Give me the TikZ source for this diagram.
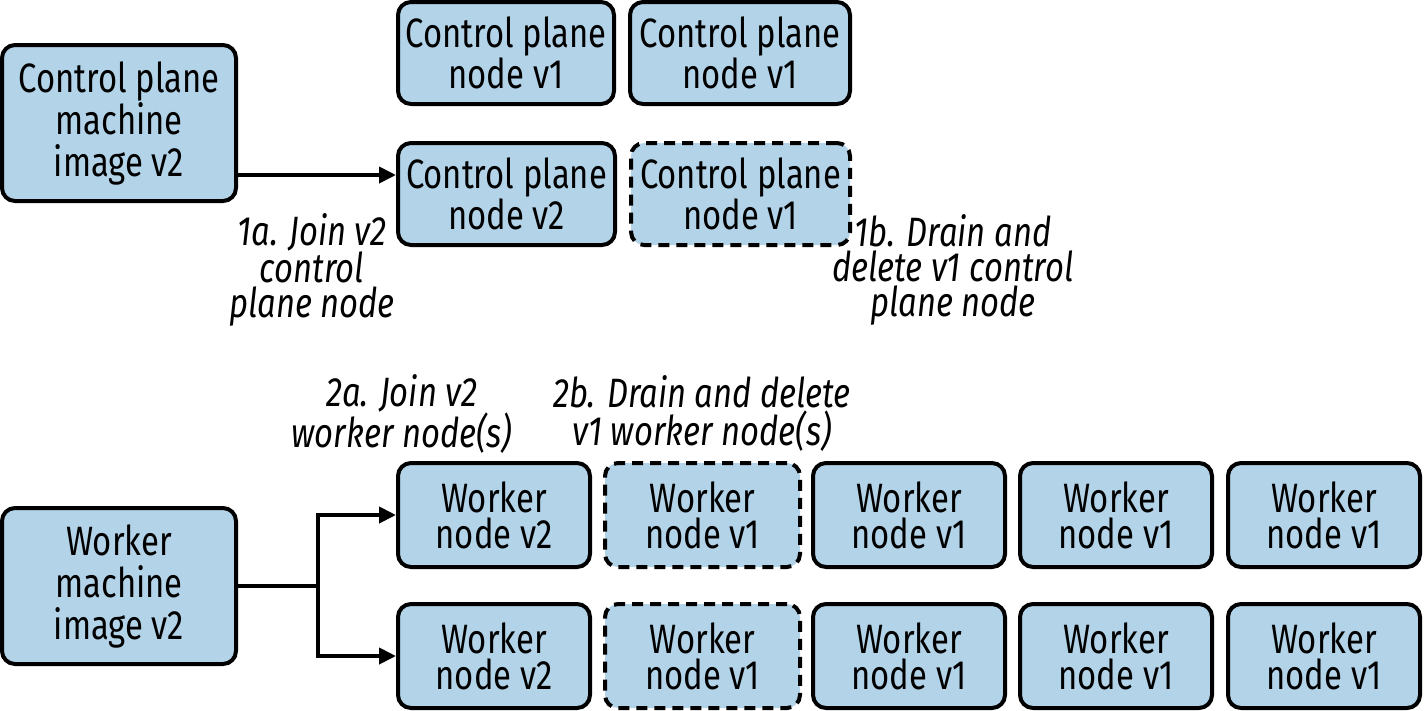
\documentclass[tikz,border=0pt]{standalone}
\usepackage{fontspec}
\setmainfont{Fira Sans}[FakeStretch=0.8]
\usetikzlibrary{arrows.meta}
\definecolor{boxblue}{RGB}{178,211,232}
\tikzset{
  box/.style={draw=black, line width=4pt, fill=boxblue, rounded corners=13pt, align=center, inner sep=0pt,
    font=\fontsize{41}{36}\selectfont},
  bigbox/.style={box, font=\fontsize{41}{42}\selectfont},
  dbox/.style={box, dash pattern=on 11pt off 7pt},
  arr/.style={line width=4pt, -{Triangle[length=17pt,width=16pt]}},
  conn/.style={line width=4pt},
  lbl/.style={align=center, inner sep=0pt, font=\fontsize{41}{35}\selectfont\itshape},
}
\begin{document}
\begin{tikzpicture}[x=1pt,y=-1pt]
\useasboundingbox (0,0) rectangle (1424,710);
% control plane
\node[bigbox, minimum width=234pt, minimum height=156pt] (cpm) at (119,123) {Control plane\\machine\\image v2};
\node[box, minimum width=216pt, minimum height=102pt] (cpa) at (506,53) {Control plane\\node v1};
\node[box, minimum width=220pt, minimum height=102pt] (cpb) at (740,53) {Control plane\\node v1};
\node[box, minimum width=217pt, minimum height=102pt] (cpn) at (506.5,194) {Control plane\\node v2};
\node[dbox, minimum width=219pt, minimum height=102pt] (cpd) at (740.5,194) {Control plane\\node v1};
\draw[arr] (cpm.east |- 0,175) -- (cpn.west |- 0,175);
\node[lbl] (l1a) at (312,270) {1a. Join v2\\control\\plane node};
\node[lbl] (l1b) at (953,270) {1b. Drain and\\delete v1 control\\plane node};
% workers
\node[lbl, font=\fontsize{41}{38}\selectfont\itshape] (l2a) at (402,414) {2a. Join v2\\worker node(s)};
\node[lbl, font=\fontsize{41}{38}\selectfont\itshape] (l2b) at (702,414) {2b. Drain and delete\\v1 worker node(s)};
\node[bigbox, minimum width=234pt, minimum height=156pt] (wm) at (119,586) {Worker\\machine\\image v2};
\foreach \r/\y in {1/515,2/656}{
  \node[box, minimum width=192pt, minimum height=104pt] (w\r a) at (494,\y) {Worker\\node v2};
  \node[dbox, minimum width=195pt, minimum height=104pt] (w\r b) at (702.5,\y) {Worker\\node v1};
  \node[box, minimum width=192pt, minimum height=104pt] (w\r c) at (909,\y) {Worker\\node v1};
  \node[box, minimum width=192pt, minimum height=104pt] (w\r d) at (1116,\y) {Worker\\node v1};
  \node[box, minimum width=192pt, minimum height=104pt] (w\r e) at (1324,\y) {Worker\\node v1};
}
\coordinate (fork) at (318,586);
\draw[conn] (wm.east) -- (fork);
\draw[arr] (fork) |- (w1a.west);
\draw[arr] (fork) |- (w2a.west);
\end{tikzpicture}
\end{document}
